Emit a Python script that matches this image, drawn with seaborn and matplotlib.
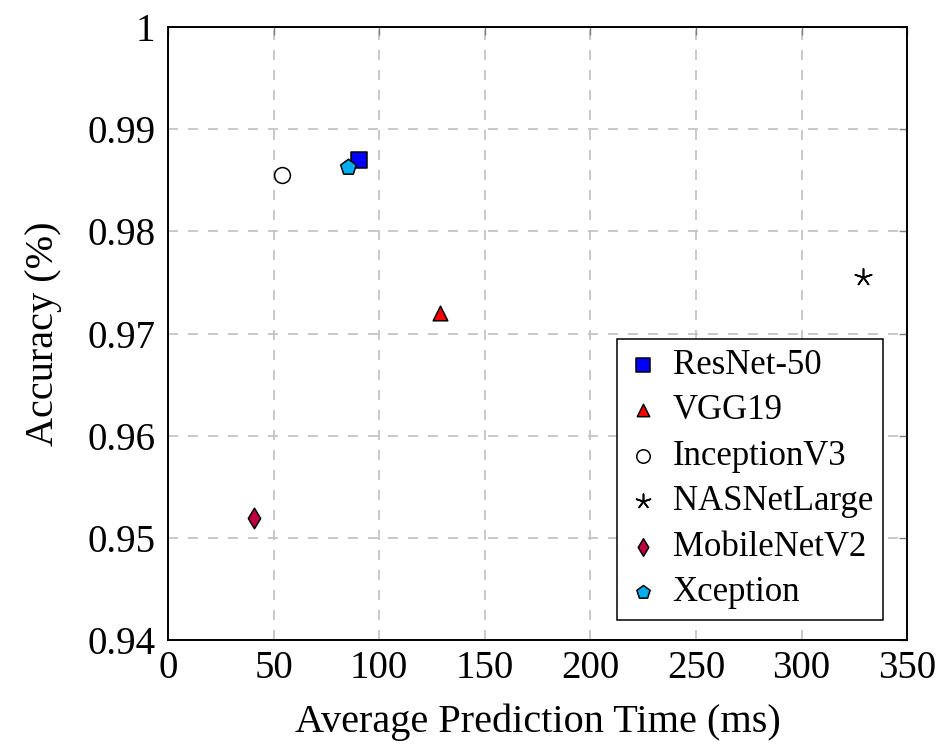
import matplotlib
matplotlib.use("Agg")
import matplotlib.pyplot as plt
import numpy as np
import pandas as pd
import seaborn as sns

# === data ===
MODELS = ["ResNet-50", "VGG19", "InceptionV3", "NASNetLarge", "MobileNetV2", "Xception"]
PRED_TIME = [90.5, 128.8, 54.1, 328.9, 40.9, 85.1]       # ms
ACCURACY = [0.9870, 0.9720, 0.98548, 0.97556, 0.95191, 0.98633]

X_TICKS = [0, 50, 100, 150, 200, 250, 300, 350]
Y_TICKS = [0.94, 0.95, 0.96, 0.97, 0.98, 0.99, 1.0]
Y_TICK_LABELS = ["0.94", "0.95", "0.96", "0.97", "0.98", "0.99", "1"]

# === style per model ===
MARKERS = {
    "ResNet-50": "s",
    "VGG19": "^",
    "InceptionV3": "o",
    "NASNetLarge": (5, 2, 0),
    "MobileNetV2": "d",
    "Xception": "p",
}
COLORS = {
    "ResNet-50": "#0000ff",
    "VGG19": "#ff0000",
    "InceptionV3": "#ffffff",
    "NASNetLarge": "#000000",
    "MobileNetV2": "#bf0040",
    "Xception": "#00aeef",
}
SIZES = {
    "ResNet-50": 130,
    "VGG19": 110,
    "InceptionV3": 130,
    "NASNetLarge": 150,
    "MobileNetV2": 110,
    "Xception": 140,
}

df = pd.DataFrame({"model": MODELS, "time": PRED_TIME, "acc": ACCURACY})

sns.set_style("white")
plt.rcParams["font.family"] = ["Liberation Serif", "DejaVu Serif"]
plt.rcParams["mathtext.fontset"] = "dejavuserif"
plt.rcParams["text.color"] = "black"
plt.rcParams["axes.labelcolor"] = "black"

fig, ax = plt.subplots(figsize=(9.41, 7.46), dpi=100)
plt.subplots_adjust(left=0.1785, right=0.964, bottom=0.142, top=0.9638)

for m in MODELS:
    sub = df[df["model"] == m]
    if m == "NASNetLarge":
        sns.scatterplot(data=sub, x="time", y="acc", marker=MARKERS[m], color="black",
                        s=SIZES[m], linewidth=1.2, label=m, ax=ax, zorder=3)
    else:
        sns.scatterplot(data=sub, x="time", y="acc", marker=MARKERS[m], color=COLORS[m],
                        s=SIZES[m], edgecolor="black", linewidth=1.1, label=m, ax=ax, zorder=3)

ax.set_xlim(0, 350)
ax.set_ylim(0.94, 1.0)
ax.set_xticks(X_TICKS)
ax.set_yticks(Y_TICKS)
ax.set_yticklabels(Y_TICK_LABELS)
ax.grid(True, color="#c0c0c0", linestyle=(0, (6, 6)), linewidth=1.2)
ax.set_axisbelow(True)
for sp in ax.spines.values():
    sp.set_color("black")
    sp.set_linewidth(1.4)
ax.tick_params(axis="both", which="major", direction="in", length=6, width=1.0,
               top=True, right=True, labelsize=28, color="#808080",
               labelcolor="black")
ax.tick_params(axis="y", pad=9)
ax.tick_params(axis="x", pad=7)

ax.set_xlabel("Average Prediction Time (ms)", fontsize=29, labelpad=12, color="black")
ax.set_ylabel("Accuracy (%)", fontsize=29, labelpad=18, color="black")

leg = ax.legend(loc="lower right", bbox_to_anchor=(0.968, 0.033), fontsize=25,
                frameon=True, fancybox=False, edgecolor="black", framealpha=1,
                handletextpad=0.4, borderpad=0.3, labelspacing=0.36,
                markerscale=0.85, handlelength=0.9, borderaxespad=0.0,
                labelcolor="black")
leg.get_frame().set_linewidth(1.1)

fig.savefig("out.png", dpi=100)
